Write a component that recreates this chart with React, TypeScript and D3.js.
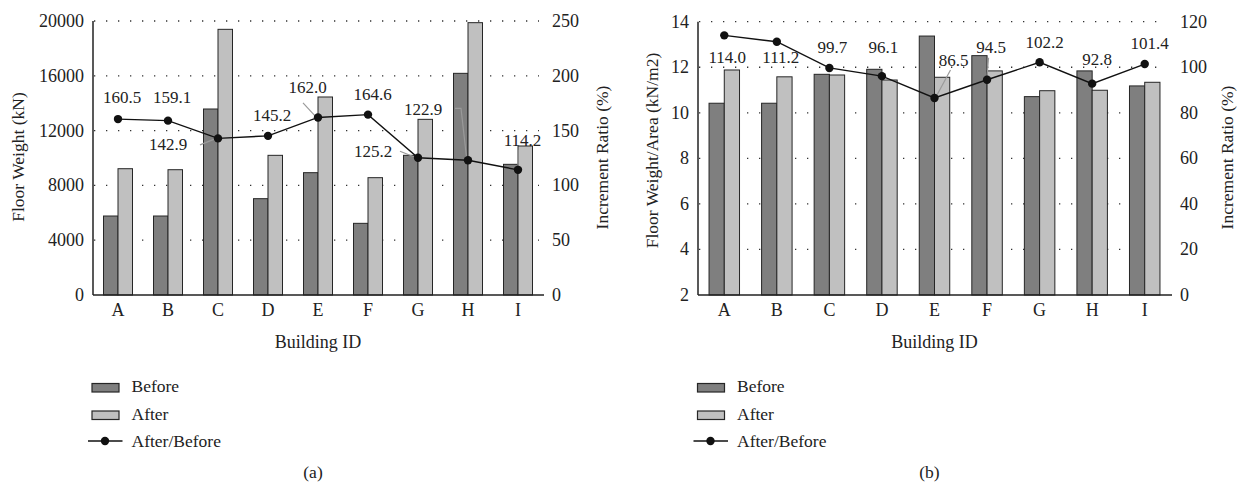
import React from 'react';
import * as d3 from 'd3';

// ---------- DATA ----------
const categories = ['A', 'B', 'C', 'D', 'E', 'F', 'G', 'H', 'I'];

const weightBefore = [5766, 5766, 13577, 7031, 8929, 5231, 10195, 16180, 9538];
const weightAfter = [9219, 9146, 19392, 10195, 14453, 8564, 12822, 19878, 10876];
const weightRatio = [160.5, 159.1, 142.9, 145.2, 162.0, 164.6, 125.2, 122.9, 114.2];

const areaBefore = [10.42, 10.42, 11.69, 11.91, 13.37, 12.51, 10.71, 11.84, 11.18];
const areaAfter = [11.88, 11.58, 11.66, 11.44, 11.56, 11.84, 10.97, 10.99, 11.34];
const areaRatio = [114.0, 111.2, 99.7, 96.1, 86.5, 94.5, 102.2, 92.8, 101.4];

const leftTicksA = [0, 4000, 8000, 12000, 16000, 20000];
const rightTicksA = [0, 50, 100, 150, 200, 250];
const leftTicksB = [2, 4, 6, 8, 10, 12, 14];
const rightTicksB = [0, 20, 40, 60, 80, 100, 120];

const legendLabels = ['Before', 'After', 'After/Before'];

// ---------- LAYOUT (label offsets relative to the point) ----------
type Lab = { dx: number; dy: number; leader?: [number, number][] };
const labelsA: Lab[] = [
  { dx: 4, dy: -16 },
  { dx: 4, dy: -17.5 },
  { dx: -50, dy: 11.5, leader: [[-18, 6.5], [-3, 0.5]] },
  { dx: 4, dy: -15 },
  { dx: -10.5, dy: -24.5, leader: [[-15, -14.5], [-3, -1.5]] },
  { dx: 4.5, dy: -14.5 },
  { dx: -45, dy: -1, leader: [[-18, -6.5], [-3, -0.5]] },
  { dx: -45, dy: -45, leader: [[-13, -52], [-7, -52], [-1.5, -3]] },
  { dx: 4.5, dy: -24, leader: [[0, -20], [0, -4]] },
];
const labelsB: Lab[] = [
  { dx: 3, dy: 28 },
  { dx: 4, dy: 21.5 },
  { dx: 3, dy: -14.5 },
  { dx: 1.5, dy: -23 },
  { dx: 19, dy: -32, leader: [[16, -28], [2.5, -3]] },
  { dx: 4, dy: -26.5, leader: [[1.5, -22], [0, -4]] },
  { dx: 5, dy: -14 },
  { dx: 5, dy: -18.5 },
  { dx: 5, dy: -15 },
];

const FONT = '"Liberation Serif", "DejaVu Serif", serif';
const C_BEFORE = '#7f7f7f';
const C_AFTER = '#c0c0c0';
const C_STROKE = '#262626';

type PanelProps = {
  left: number;
  right: number;
  top: number;
  bottom: number;
  before: number[];
  after: number[];
  ratio: number[];
  leftDomain: [number, number];
  rightDomain: [number, number];
  leftTicks: number[];
  rightTicks: number[];
  leftTitle: string;
  leftTitleX: number;
  rightTitleX: number;
  leftTitleY: number;
  labels: Lab[];
  legendX: number;
  tag: string;
};

function Panel(p: PanelProps) {
  const x = d3
    .scaleBand<string>()
    .domain(categories)
    .range([p.left, p.right])
    .paddingInner(0.42)
    .paddingOuter(0.21);
  const sub = d3
    .scaleBand<string>()
    .domain(['before', 'after'])
    .range([0, x.bandwidth()]);
  const yL = d3.scaleLinear().domain(p.leftDomain).range([p.bottom, p.top]);
  const yR = d3.scaleLinear().domain(p.rightDomain).range([p.bottom, p.top]);
  const cx = (c: string) => (x(c) as number) + x.bandwidth() / 2;
  const line = d3
    .line<number>()
    .x((_, i) => cx(categories[i]))
    .y((d) => yR(d));
  const base = yL(p.leftDomain[0]);
  const midX = (p.left + p.right) / 2;

  return (
    <g fontFamily={FONT} fill="#222">
      {/* gridlines */}
      {p.leftTicks.slice(1).map((t) => (
        <line
          key={'g' + t}
          x1={p.left + 1}
          x2={p.right - 4}
          y1={yL(t)}
          y2={yL(t)}
          stroke="#333"
          strokeWidth={1.3}
          strokeDasharray="1.3 10.7"
        />
      ))}
      {/* bars */}
      {categories.map((c, i) => (
        <g key={'b' + c}>
          <rect
            x={(x(c) as number) + (sub('before') as number)}
            y={yL(p.before[i])}
            width={sub.bandwidth()}
            height={base - yL(p.before[i])}
            fill={C_BEFORE}
            stroke={C_STROKE}
            strokeWidth={1}
          />
          <rect
            x={(x(c) as number) + (sub('after') as number)}
            y={yL(p.after[i])}
            width={sub.bandwidth()}
            height={base - yL(p.after[i])}
            fill={C_AFTER}
            stroke={C_STROKE}
            strokeWidth={1}
          />
        </g>
      ))}
      {/* axes */}
      <line x1={p.left} x2={p.left} y1={p.top} y2={p.bottom} stroke="#222" strokeWidth={1.5} />
      <line x1={p.left} x2={p.right + 1} y1={p.bottom} y2={p.bottom} stroke="#222" strokeWidth={1.5} />
      {p.leftTicks.map((t) => (
        <text key={'lt' + t} x={p.left - 9} y={yL(t)} dy="0.33em" textAnchor="end" fontSize={18}>
          {t}
        </text>
      ))}
      {p.rightTicks.map((t) => (
        <text key={'rt' + t} x={p.right + 9} y={yR(t)} dy="0.33em" textAnchor="start" fontSize={18}>
          {t}
        </text>
      ))}
      {categories.map((c) => (
        <text key={'xt' + c} x={cx(c)} y={p.bottom + 21} textAnchor="middle" fontSize={18}>
          {c}
        </text>
      ))}
      <text x={midX} y={p.bottom + 53} textAnchor="middle" fontSize={18}>
        Building ID
      </text>
      <text
        transform={`translate(${p.leftTitleX},${p.leftTitleY}) rotate(-90)`}
        textAnchor="middle"
        fontSize={17.5}
      >
        {p.leftTitle}
      </text>
      <text
        transform={`translate(${p.rightTitleX},157.5) rotate(-90)`}
        textAnchor="middle"
        fontSize={17.5}
      >
        Increment Ratio (%)
      </text>
      {/* leaders */}
      {p.ratio.map((r, i) => {
        const lab = p.labels[i];
        if (!lab.leader) return null;
        const px = cx(categories[i]);
        const py = yR(r);
        const pts = lab.leader.map(([a, b]) => `${px + a},${py + b}`).join(' ');
        return <polyline key={'ld' + i} points={pts} fill="none" stroke="#9a9a9a" strokeWidth={1.2} />;
      })}
      {/* ratio line */}
      <path d={line(p.ratio) || ''} fill="none" stroke="#111" strokeWidth={1.4} />
      {p.ratio.map((r, i) => (
        <circle key={'pt' + i} cx={cx(categories[i])} cy={yR(r)} r={4.2} fill="#111" />
      ))}
      {p.ratio.map((r, i) => (
        <text
          key={'lb' + i}
          x={cx(categories[i]) + p.labels[i].dx}
          y={yR(r) + p.labels[i].dy}
          textAnchor="middle"
          fontSize={17}
        >
          {r.toFixed(1)}
        </text>
      ))}
      {/* legend */}
      <g transform={`translate(${p.legendX},0)`}>
        <rect x={4} y={383.5} width={27} height={8.5} fill={C_BEFORE} stroke={C_STROKE} strokeWidth={1.2} />
        <text x={43.5} y={392} fontSize={17.5}>{legendLabels[0]}</text>
        <rect x={4} y={411} width={27} height={8.5} fill={C_AFTER} stroke={C_STROKE} strokeWidth={1.2} />
        <text x={43.5} y={419.5} fontSize={17.5}>{legendLabels[1]}</text>
        <line x1={0} x2={34.5} y1={441} y2={441} stroke="#111" strokeWidth={1.4} />
        <circle cx={17} cy={441} r={4.2} fill="#111" />
        <text x={43.5} y={446.5} fontSize={17.5}>{legendLabels[2]}</text>
      </g>
      <text x={midX - 5} y={478} textAnchor="middle" fontSize={17.5}>
        {p.tag}
      </text>
    </g>
  );
}

export default function App() {
  return (
    <svg
      width={1245}
      height={491}
      style={{ position: 'absolute', left: 0, top: 0, background: '#fff' }}
    >
      <Panel
        left={93}
        right={543}
        top={21}
        bottom={295}
        before={weightBefore}
        after={weightAfter}
        ratio={weightRatio}
        leftDomain={[0, 20000]}
        rightDomain={[0, 250]}
        leftTicks={leftTicksA}
        rightTicks={rightTicksA}
        leftTitle="Floor Weight (kN)"
        leftTitleX={24}
        leftTitleY={157}
        rightTitleX={608}
        labels={labelsA}
        legendX={88}
        tag="(a)"
      />
      <Panel
        left={698}
        right={1171}
        top={21.7}
        bottom={295}
        before={areaBefore}
        after={areaAfter}
        ratio={areaRatio}
        leftDomain={[2, 14]}
        rightDomain={[0, 120]}
        leftTicks={leftTicksB}
        rightTicks={rightTicksB}
        leftTitle="Floor Weight/Area (kN/m2)"
        leftTitleX={658}
        leftTitleY={150.5}
        rightTitleX={1233}
        labels={labelsB}
        legendX={693.5}
        tag="(b)"
      />
    </svg>
  );
}
